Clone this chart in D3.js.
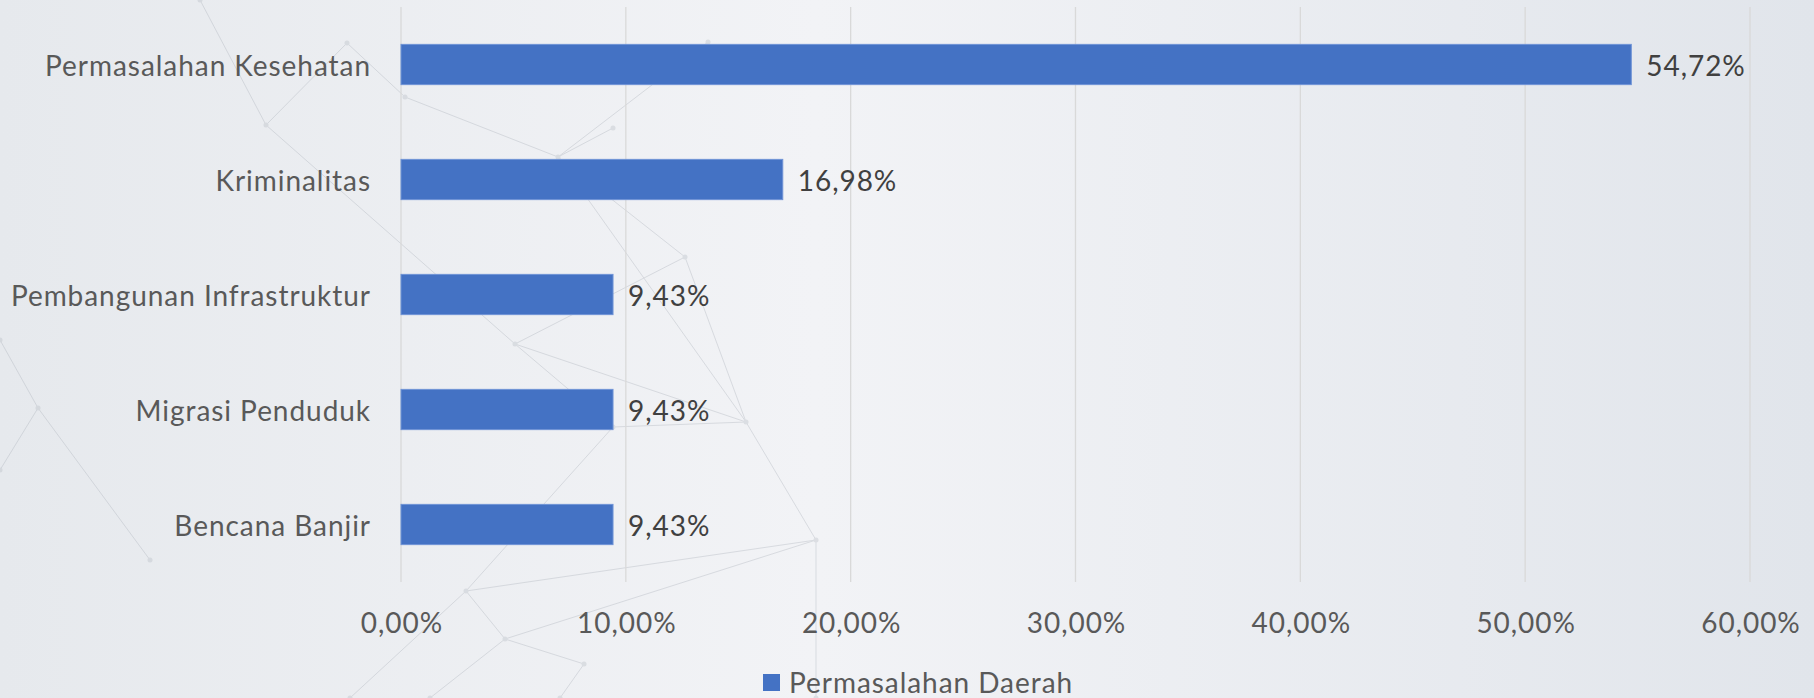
<!DOCTYPE html>
<html>
<head>
<meta charset="utf-8">
<script src="https://cdn.jsdelivr.net/npm/d3@7"></script>
<style>
  html, body { margin: 0; padding: 0; }
  body { width: 1814px; height: 698px; overflow: hidden; }
  svg text { font-family: Lato, "Open Sans", sans-serif; letter-spacing: 0.95px; }
</style>
</head>
<body>
<div id="chart"></div>
<script>
const categories = ["Permasalahan Kesehatan", "Kriminalitas", "Pembangunan Infrastruktur", "Migrasi Penduduk", "Bencana Banjir"];
const values = [0.5472, 0.1698, 0.0943, 0.0943, 0.0943];
const xTicks = [0, 0.1, 0.2, 0.3, 0.4, 0.5, 0.6];
const seriesName = "Permasalahan Daerah";

// faint network pattern of the slide background (decoration only)
const bgNodes = [[558,157],[613,128],[708,42],[685,257],[405,97],[266,125],[347,43],[515,344],
                 [466,591],[505,639],[816,540],[746,422],[613,427],[38,408],[584,664],[200,0],
                 [350,698],[816,698],[560,698],[0,340],[150,560],[430,698],[0,470]];
const bgEdges = [[0,1],[0,2],[0,3],[0,4],[0,11],[5,15],[5,6],[4,6],[7,3],[7,11],[7,12],[8,10],
                 [8,9],[8,12],[8,16],[9,14],[9,10],[10,11],[10,17],[12,11],[13,19],[13,20],
                 [3,11],[14,18],[9,21],[13,22],[5,7]];

const width = 1814, height = 698;
const margin = {top: 7, right: 64, bottom: 116, left: 401};

const locale = d3.formatLocale({decimal: ",", thousands: ".", grouping: [3], currency: ["", ""]});
const fmt = locale.format(".2%");

const svg = d3.select("#chart").append("svg")
    .attr("width", width)
    .attr("height", height);

// background
const defs = svg.append("defs");
const grad = defs.append("linearGradient").attr("id", "bg").attr("x1", 0).attr("x2", 1).attr("y1", 0).attr("y2", 0);
grad.append("stop").attr("offset", "0%").attr("stop-color", "#e6e9ed");
grad.append("stop").attr("offset", "45%").attr("stop-color", "#f2f3f6");
grad.append("stop").attr("offset", "100%").attr("stop-color", "#e1e5eb");
svg.append("rect").attr("width", width).attr("height", height).attr("fill", "url(#bg)");

const deco = svg.append("g").attr("opacity", 0.35);
deco.selectAll("line")
    .data(bgEdges)
    .join("line")
    .attr("x1", d => bgNodes[d[0]][0])
    .attr("y1", d => bgNodes[d[0]][1])
    .attr("x2", d => bgNodes[d[1]][0])
    .attr("y2", d => bgNodes[d[1]][1])
    .attr("stroke", "#a9afb8")
    .attr("stroke-width", 1);
deco.selectAll("circle")
    .data(bgNodes)
    .join("circle")
    .attr("cx", d => d[0])
    .attr("cy", d => d[1])
    .attr("r", 2.5)
    .attr("fill", "#b4bac2");

const x = d3.scaleLinear()
    .domain([0, 0.6])
    .range([margin.left, width - margin.right]);

const y = d3.scaleBand()
    .domain(categories)
    .range([margin.top, height - margin.bottom])
    .paddingInner(0.65)
    .paddingOuter(0.325);

// gridlines
svg.append("g")
    .selectAll("line")
    .data(xTicks)
    .join("line")
    .attr("x1", d => x(d))
    .attr("x2", d => x(d))
    .attr("y1", margin.top)
    .attr("y2", height - margin.bottom)
    .attr("stroke", "#d9d9d9")
    .attr("stroke-width", 1.3);

// x tick labels
svg.append("g")
    .selectAll("text")
    .data(xTicks)
    .join("text")
    .attr("x", d => x(d) + 1)
    .attr("y", 622)
    .attr("text-anchor", "middle")
    .attr("dominant-baseline", "central")
    .attr("fill", "#595959")
    .style("font-size", "28px")
    .text(d => fmt(d));

// category labels
svg.append("g")
    .selectAll("text")
    .data(categories)
    .join("text")
    .attr("x", 371)
    .attr("y", d => y(d) + y.bandwidth() / 2)
    .attr("text-anchor", "end")
    .attr("dominant-baseline", "central")
    .attr("fill", "#595959")
    .style("font-size", "28px")
    .text(d => d);

// bars
svg.append("g")
    .selectAll("rect")
    .data(values)
    .join("rect")
    .attr("x", x(0))
    .attr("y", (d, i) => y(categories[i]))
    .attr("width", d => x(d) - x(0))
    .attr("height", y.bandwidth())
    .attr("fill", "#4472c4")
    .attr("stroke", "#6f93d6")
    .attr("stroke-width", 1);

// data labels
svg.append("g")
    .selectAll("text")
    .data(values)
    .join("text")
    .attr("x", d => x(d) + 15)
    .attr("y", (d, i) => y(categories[i]) + y.bandwidth() / 2)
    .attr("dominant-baseline", "central")
    .attr("fill", "#404040")
    .style("font-size", "28px")
    .text(d => fmt(d));

// legend
const legend = svg.append("g");
legend.append("rect")
    .attr("x", 763)
    .attr("y", 674)
    .attr("width", 17)
    .attr("height", 17)
    .attr("fill", "#4472c4");
legend.append("text")
    .attr("x", 789)
    .attr("y", 682)
    .attr("dominant-baseline", "central")
    .attr("fill", "#595959")
    .style("font-size", "28px")
    .text(seriesName);
</script>
</body>
</html>
